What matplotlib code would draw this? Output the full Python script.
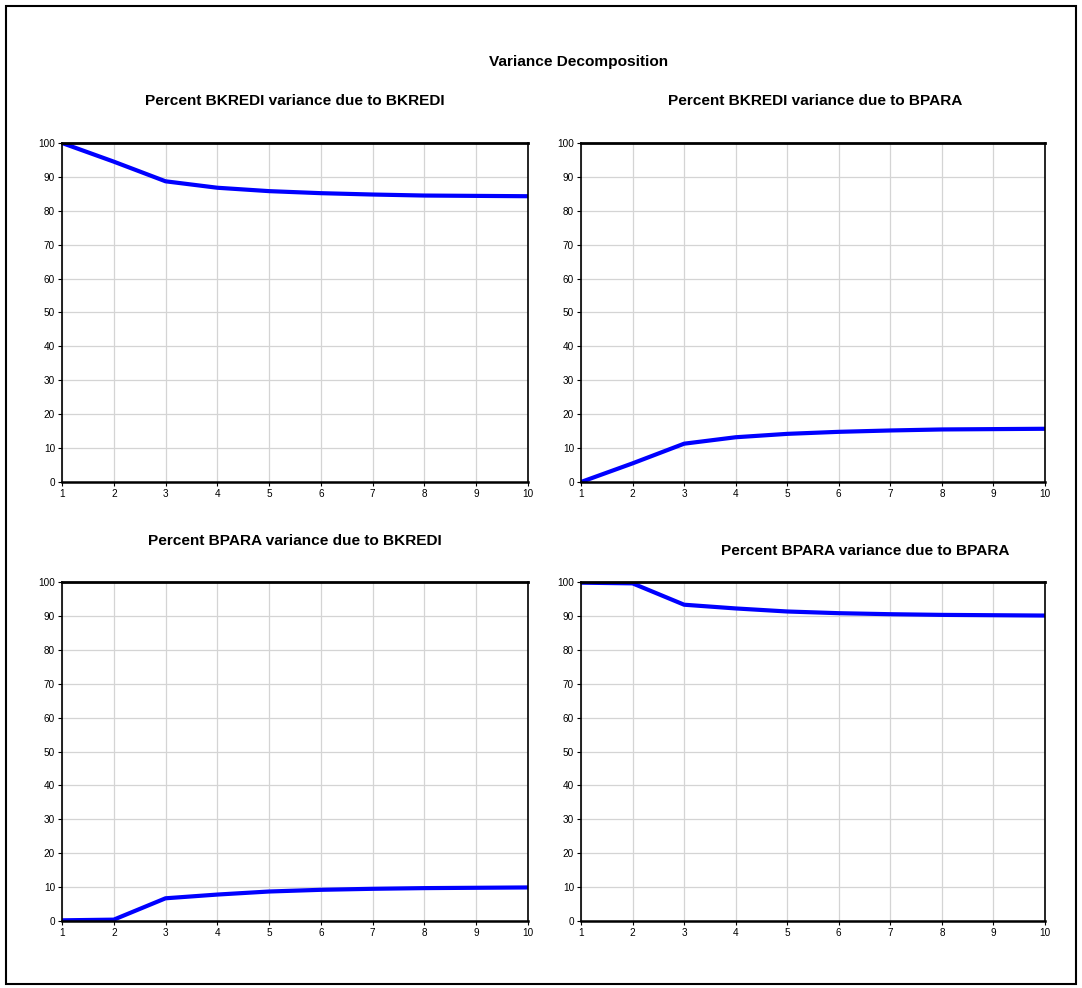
import matplotlib
matplotlib.use("Agg")
import matplotlib.pyplot as plt
from matplotlib.patches import Rectangle

plt.rcParams['font.family'] = ['Liberation Sans Narrow', 'Liberation Sans', 'DejaVu Sans']

periods = [1, 2, 3, 4, 5, 6, 7, 8, 9, 10]
bkredi_due_bkredi = [100.0, 94.5, 88.7, 86.8, 85.8, 85.2, 84.8, 84.5, 84.4, 84.3]
bkredi_due_bpara = [0.0, 5.5, 11.3, 13.2, 14.2, 14.8, 15.2, 15.5, 15.6, 15.7]
bpara_due_bkredi = [0.2, 0.4, 6.7, 7.8, 8.7, 9.2, 9.5, 9.7, 9.8, 9.9]
bpara_due_bpara = [99.8, 99.6, 93.3, 92.2, 91.3, 90.8, 90.5, 90.3, 90.2, 90.1]

titles = ['Percent BKREDI variance due to BKREDI',
          'Percent BKREDI variance due to BPARA',
          'Percent BPARA variance due to BKREDI',
          'Percent BPARA variance due to BPARA']
series = [bkredi_due_bkredi, bkredi_due_bpara, bpara_due_bkredi, bpara_due_bpara]

W, H = 1082, 988
fig = plt.figure(figsize=(W / 100, H / 100), dpi=100)

def px(x0, y0, x1, y1):
    # pixel box (top-left origin) -> figure fraction rect
    return [x0 / W, 1 - y1 / H, (x1 - x0) / W, (y1 - y0) / H]

boxes = [px(62, 143, 528, 482), px(581, 143, 1045, 482),
         px(62, 582, 528, 921), px(581, 582, 1045, 921)]
# title anchor positions (pixels)
title_pos = [(295, 101), (815, 101), (295, 541), (865, 551)]

fig.patches.append(Rectangle((6 / W, 1 - 984 / H), 1070 / W, 978 / H,
                             transform=fig.transFigure, fill=False,
                             edgecolor='black', linewidth=1.5))

fig.text(579 / W, 1 - 62 / H, 'Variance Decomposition', ha='center', va='center',
         fontsize=11.1, fontweight='bold')

for box, title, vals, (tx, ty) in zip(boxes, titles, series, title_pos):
    ax = fig.add_axes(box)
    ax.plot(periods, vals, color='#0000ff', linewidth=3, solid_joinstyle='round')
    ax.set_xlim(1, 10)
    ax.set_ylim(0, 100)
    ax.set_xticks(periods)
    ax.set_yticks(range(0, 101, 10))
    ax.grid(True, color='#d4d4d4', linewidth=0.9)
    ax.set_axisbelow(True)
    for s in ax.spines.values():
        s.set_linewidth(1.2)
    ax.spines['top'].set_linewidth(2)
    ax.spines['bottom'].set_linewidth(1.8)
    ax.tick_params(direction='out', length=3, width=0.8, labelsize=7.2, pad=2)
    fig.text(tx / W, 1 - ty / H, title, ha='center', va='center',
             fontsize=11.1, fontweight='bold')

fig.savefig('out.png', dpi=100)
